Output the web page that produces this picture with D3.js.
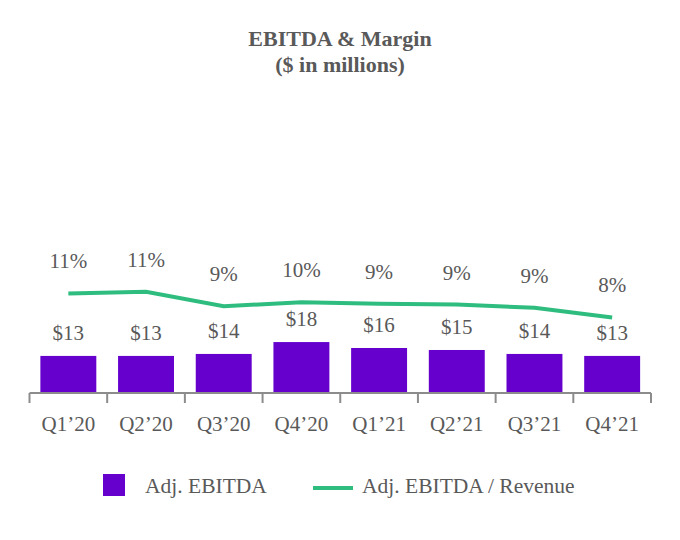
<!DOCTYPE html>
<html>
<head>
<meta charset="utf-8">
<script src="https://cdn.jsdelivr.net/npm/d3@7"></script>
<style>
  body { margin: 0; background: #fff; }
</style>
</head>
<body>
<div id="my_dataviz"></div>
<script>
  // data
  const quarters = ["Q1’20", "Q2’20", "Q3’20", "Q4’20", "Q1’21", "Q2’21", "Q3’21", "Q4’21"];
  const ebitda = [13.1, 13.1, 13.8, 18.0, 15.9, 15.2, 13.8, 13.1];   // $ in millions
  const margin = [10.7, 10.9, 9.1, 9.6, 9.4, 9.3, 8.9, 7.7];         // % of revenue

  const barColor = "#6600cc",
    lineColor = "#2ebd7e",
    textColor = "#595959",
    font = "Liberation Serif, Times New Roman, serif";

  const width = 680, height = 540;

  const svg = d3.select("#my_dataviz")
    .append("svg")
    .attr("width", width)
    .attr("height", height);

  // title
  svg.append("text")
    .attr("x", 340).attr("y", 46)
    .attr("text-anchor", "middle")
    .style("font-family", font).style("font-size", "22px").style("font-weight", "bold")
    .style("fill", textColor)
    .text("EBITDA & Margin");
  svg.append("text")
    .attr("x", 340).attr("y", 72)
    .attr("text-anchor", "middle")
    .style("font-family", font).style("font-size", "22px").style("font-weight", "bold")
    .style("fill", textColor)
    .text("($ in millions)");

  // X axis (band per quarter)
  const x = d3.scaleBand()
    .domain(quarters)
    .range([29.5, 651])
    .paddingInner(0.28)
    .paddingOuter(0.14);

  // separate scale for the boundaries, where the tick marks sit
  const xEdge = d3.scaleLinear()
    .domain([0, quarters.length])
    .range([29.5, 651]);

  // Y scales: bars and margin line
  const yBar = d3.scaleLinear()
    .domain([0, 100])
    .range([393, 110]);
  const yLine = d3.scaleLinear()
    .domain([0, 12])
    .range([379, 283]);

  // bars
  svg.append("g")
    .selectAll("rect")
    .data(quarters)
    .join("rect")
    .attr("x", d => x(d))
    .attr("y", (d, i) => yBar(ebitda[i]))
    .attr("width", x.bandwidth())
    .attr("height", (d, i) => yBar(0) - yBar(ebitda[i]))
    .attr("fill", barColor);

  // bar labels
  svg.append("g")
    .selectAll("text")
    .data(quarters)
    .join("text")
    .attr("x", d => x(d) + x.bandwidth() / 2)
    .attr("y", (d, i) => yBar(ebitda[i]) - 16)
    .attr("text-anchor", "middle")
    .style("font-family", font).style("font-size", "21px")
    .style("fill", textColor)
    .text((d, i) => "$" + Math.round(ebitda[i]));

  // axis line + boundary ticks
  const axis = svg.append("g");
  axis.append("line")
    .attr("x1", xEdge(0)).attr("x2", xEdge(quarters.length))
    .attr("y1", yBar(0)).attr("y2", yBar(0))
    .attr("stroke", "#8c8c8c").attr("stroke-width", 2);
  axis.selectAll("line.tick")
    .data(d3.range(quarters.length + 1))
    .join("line")
    .attr("class", "tick")
    .attr("x1", d => xEdge(d)).attr("x2", d => xEdge(d))
    .attr("y1", yBar(0)).attr("y2", yBar(0) + 10)
    .attr("stroke", "#8c8c8c").attr("stroke-width", 2);

  // tick labels from d3 axis
  svg.append("g")
    .attr("transform", `translate(0, 393)`)
    .call(d3.axisBottom(x).tickSize(0).tickPadding(23))
    .call(g => g.select(".domain").remove())
    .selectAll("text")
    .style("font-family", font).style("font-size", "21px")
    .style("fill", textColor);

  // margin line
  const line = d3.line()
    .x((d, i) => x(quarters[i]) + x.bandwidth() / 2)
    .y(d => yLine(d));
  svg.append("path")
    .datum(margin)
    .attr("d", line)
    .attr("fill", "none")
    .attr("stroke", lineColor)
    .attr("stroke-width", 4);

  // margin labels
  svg.append("g")
    .selectAll("text")
    .data(margin)
    .join("text")
    .attr("x", (d, i) => x(quarters[i]) + x.bandwidth() / 2)
    .attr("y", d => yLine(d) - 25)
    .attr("text-anchor", "middle")
    .style("font-family", font).style("font-size", "21px")
    .style("fill", textColor)
    .text(d => Math.round(d) + "%");

  // legend
  const legend = svg.append("g");
  legend.append("rect")
    .attr("x", 103).attr("y", 474)
    .attr("width", 22).attr("height", 22)
    .attr("fill", barColor);
  legend.append("text")
    .attr("x", 145).attr("y", 493)
    .style("font-family", font).style("font-size", "21.5px")
    .style("fill", textColor)
    .text("Adj. EBITDA");
  legend.append("line")
    .attr("x1", 313).attr("x2", 353)
    .attr("y1", 488).attr("y2", 488)
    .attr("stroke", lineColor).attr("stroke-width", 4);
  legend.append("text")
    .attr("x", 362).attr("y", 493)
    .style("font-family", font).style("font-size", "21.5px")
    .style("fill", textColor)
    .text("Adj. EBITDA / Revenue");
</script>
</body>
</html>
